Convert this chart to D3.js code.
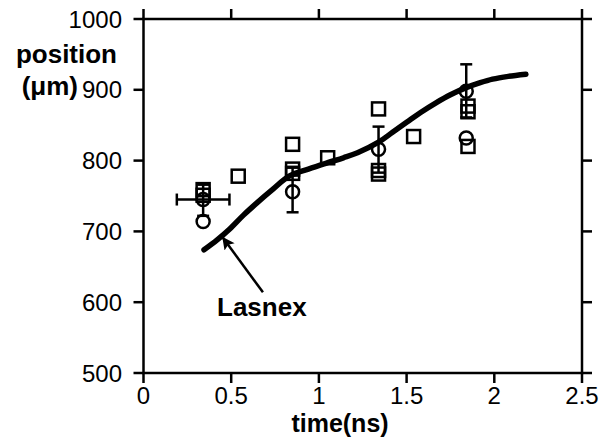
<!DOCTYPE html>
<html>
	<head>
		<title>position vs time</title>
		<script src="https://d3js.org/d3.v7.min.js"></script>
		<style>
			body { margin: 0; background: #fff; }
			text { font-family: "Liberation Sans", Arial, sans-serif; fill: #000; }
			.tick-label { font-size: 24px; }
			.title { font-size: 26px; font-weight: bold; }
		</style>
	</head>
	<body>
		<div class="chart"></div>
		<script>
			// measured points (time in ns, position in um)
			var circleTime = [0.34, 0.34, 0.85, 1.34, 1.84, 1.84];
			var circlePos  = [745, 714, 756, 816, 898, 832];
			var circleLow  = [722, null, 727, 783, 861, null];
			var circleHigh = [766, null, 790, 848, 936, null];
			var circleTLow  = [0.19, null, null, null, null, null];
			var circleTHigh = [0.49, null, null, null, null, null];

			var squareTime = [0.34, 0.34, 0.54, 0.85, 0.85, 0.85, 1.05, 1.34, 1.34, 1.34, 1.54, 1.85, 1.85, 1.85];
			var squarePos  = [759, 751, 778, 823, 788, 782, 804, 873, 786, 781, 834, 877, 869, 820];

			// Lasnex simulation curve
			var lasnexTime = [0.345, 0.42, 0.49, 0.57, 0.65, 0.74, 0.83, 0.94, 1.05, 1.14, 1.22, 1.34, 1.42, 1.50, 1.58, 1.67, 1.75, 1.84, 1.92, 1.99, 2.08, 2.18];
			var lasnexPos  = [674, 688, 703, 723, 741, 760, 778, 788, 797, 804, 811, 826, 840, 854, 868, 882, 893, 903, 910, 915, 919, 922];

			var xTicks = [0, 0.5, 1, 1.5, 2, 2.5];
			var yTicks = [500, 600, 700, 800, 900, 1000];

			var W = 602, H = 438;
			var x = d3.scaleLinear().domain([0, 2.5]).range([143.5, 582]);
			var y = d3.scaleLinear().domain([500, 1000]).range([373, 19]);

			var svg = d3.select(".chart").append("svg")
				.attr("width", W)
				.attr("height", H);

			// frame
			svg.append("rect")
				.attr("x", x(0)).attr("y", y(1000))
				.attr("width", x(2.5) - x(0)).attr("height", y(500) - y(1000))
				.attr("fill", "none").attr("stroke", "#000").attr("stroke-width", 2.5);

			// ticks outside on all four sides
			var tl = 10;
			xTicks.forEach(function(t) {
				svg.append("line").attr("x1", x(t)).attr("x2", x(t)).attr("y1", y(500)).attr("y2", y(500) + tl)
					.attr("stroke", "#000").attr("stroke-width", 2.5);
				svg.append("line").attr("x1", x(t)).attr("x2", x(t)).attr("y1", y(1000)).attr("y2", y(1000) - tl)
					.attr("stroke", "#000").attr("stroke-width", 2.5);
				svg.append("text").attr("class", "tick-label")
					.attr("x", x(t)).attr("y", y(500) + 31)
					.attr("text-anchor", "middle")
					.text(t);
			});
			yTicks.forEach(function(v) {
				svg.append("line").attr("x1", x(0) - tl).attr("x2", x(0)).attr("y1", y(v)).attr("y2", y(v))
					.attr("stroke", "#000").attr("stroke-width", 2.5);
				svg.append("line").attr("x1", x(2.5)).attr("x2", x(2.5) + tl).attr("y1", y(v)).attr("y2", y(v))
					.attr("stroke", "#000").attr("stroke-width", 2.5);
				svg.append("text").attr("class", "tick-label")
					.attr("x", 122).attr("y", y(v) + 8.5)
					.attr("text-anchor", "end")
					.text(v);
			});

			// axis titles
			svg.append("text").attr("class", "title")
				.attr("x", 340).attr("y", 432)
				.attr("text-anchor", "middle")
				.style("font-size", "25px")
				.text("time(ns)");
			svg.append("text").attr("class", "title")
				.attr("x", 117).attr("y", 63)
				.attr("text-anchor", "end")
				.text("position");
			svg.append("text").attr("class", "title")
				.attr("x", 78).attr("y", 95)
				.attr("text-anchor", "end")
				.text("(\u03bcm)");

			// Lasnex line
			var line = d3.line()
				.x(function(d, i) { return x(lasnexTime[i]); })
				.y(function(d, i) { return y(lasnexPos[i]); })
				.curve(d3.curveCatmullRom);
			svg.append("path")
				.attr("d", line(lasnexTime))
				.attr("fill", "none")
				.attr("stroke", "#000")
				.attr("stroke-width", 5.5)
				.attr("stroke-linecap", "round");

			// error bars
			var cap = 6;
			circleTime.forEach(function(t, i) {
				if (circleLow[i] != null) {
					svg.append("line").attr("x1", x(t)).attr("x2", x(t)).attr("y1", y(circleLow[i])).attr("y2", y(circleHigh[i]))
						.attr("stroke", "#000").attr("stroke-width", 2.5);
					[circleLow[i], circleHigh[i]].forEach(function(v) {
						svg.append("line").attr("x1", x(t) - cap).attr("x2", x(t) + cap).attr("y1", y(v)).attr("y2", y(v))
							.attr("stroke", "#000").attr("stroke-width", 2.5);
					});
				}
				if (circleTLow[i] != null) {
					svg.append("line").attr("x1", x(circleTLow[i])).attr("x2", x(circleTHigh[i])).attr("y1", y(circlePos[i])).attr("y2", y(circlePos[i]))
						.attr("stroke", "#000").attr("stroke-width", 2.5);
					[circleTLow[i], circleTHigh[i]].forEach(function(t2) {
						svg.append("line").attr("x1", x(t2)).attr("x2", x(t2)).attr("y1", y(circlePos[i]) - cap).attr("y2", y(circlePos[i]) + cap)
							.attr("stroke", "#000").attr("stroke-width", 2.5);
					});
				}
			});

			// circles
			svg.selectAll("circle.pt")
				.data(circleTime)
				.enter()
				.append("circle")
				.attr("class", "pt")
				.attr("cx", function(d) { return x(d); })
				.attr("cy", function(d, i) { return y(circlePos[i]); })
				.attr("r", 6.5)
				.attr("fill", "none")
				.attr("stroke", "#000")
				.attr("stroke-width", 2.5);

			// squares
			var s = 13;
			svg.selectAll("rect.pt")
				.data(squareTime)
				.enter()
				.append("rect")
				.attr("class", "pt")
				.attr("x", function(d) { return x(d) - s / 2; })
				.attr("y", function(d, i) { return y(squarePos[i]) - s / 2; })
				.attr("width", s).attr("height", s)
				.attr("fill", "none")
				.attr("stroke", "#000")
				.attr("stroke-width", 2.5);

			// Lasnex annotation
			svg.append("defs").append("marker")
				.attr("id", "head")
				.attr("viewBox", "0 0 10 10")
				.attr("refX", 9).attr("refY", 5)
				.attr("markerWidth", 5.5).attr("markerHeight", 5)
				.attr("orient", "auto")
				.append("path").attr("d", "M0,0 L10,5 L0,10 L2,5 Z").attr("fill", "#000");
			svg.append("line")
				.attr("x1", x(0.681)).attr("y1", y(614))
				.attr("x2", x(0.453)).attr("y2", y(691))
				.attr("stroke", "#000").attr("stroke-width", 2.5)
				.attr("marker-end", "url(#head)");
			svg.append("text").attr("class", "title")
				.attr("x", 217).attr("y", 316)
				.text("Lasnex");
		</script>
	</body>
</html>
